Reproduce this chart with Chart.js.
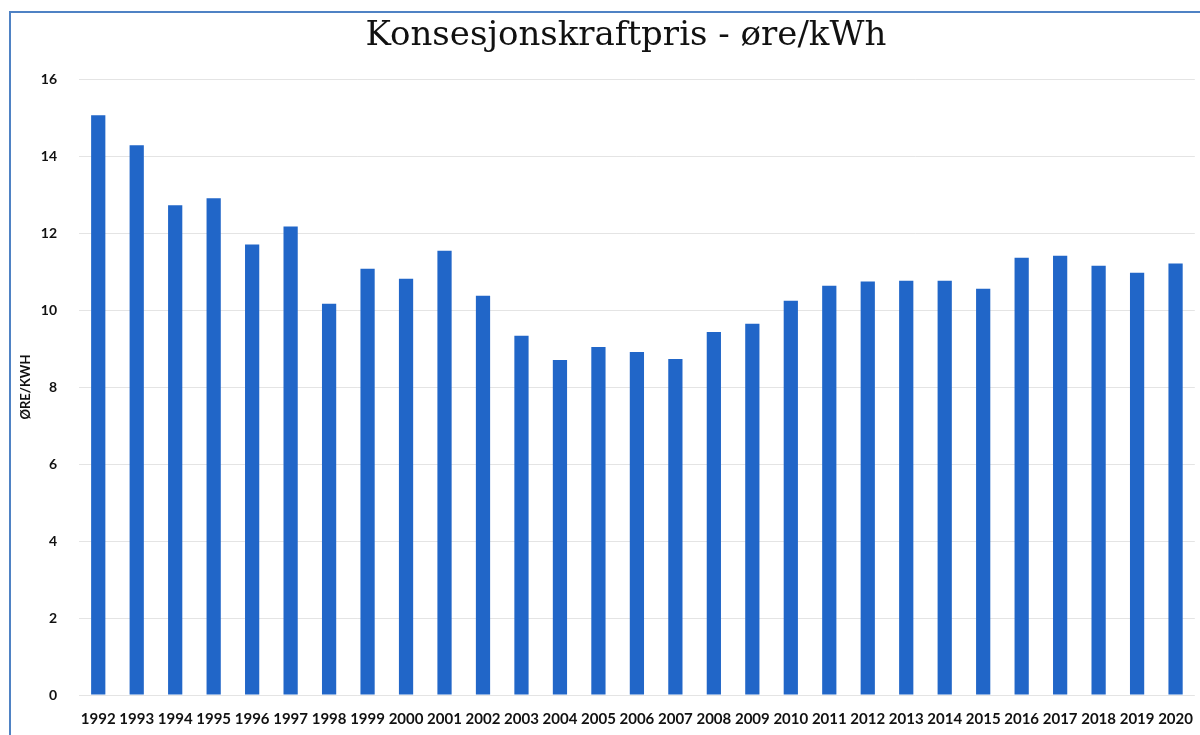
<!DOCTYPE html>
<html lang="no">
<head>
    <meta charset="UTF-8">
    <title>Konsesjonskraftpris</title>
    <script src="https://cdn.jsdelivr.net/npm/chart.js"></script>
    <style>
        body { margin: 0; background: #fff; }
        #wrap { position: relative; width: 1200px; height: 735px; overflow: hidden; }
        #frame {
            position: absolute; left: 9px; top: 11px; width: 1300px; height: 800px;
            border-left: 2px solid #4f82c4; border-top: 2px solid #4f82c4;
        }
        #chart { position: absolute; left: 0; top: 0; }
    </style>
</head>
<body>
<div id="wrap">
    <div id="frame"></div>
    <canvas id="chart" width="1200" height="735"></canvas>
</div>

<script>
    const years = ["1992", "1993", "1994", "1995", "1996", "1997", "1998", "1999", "2000", "2001",
                   "2002", "2003", "2004", "2005", "2006", "2007", "2008", "2009", "2010", "2011",
                   "2012", "2013", "2014", "2015", "2016", "2017", "2018", "2019", "2020"];
    const prices = [15.06, 14.28, 12.72, 12.90, 11.70, 12.17, 10.16, 11.07, 10.81, 11.54,
                    10.37, 9.33, 8.70, 9.04, 8.91, 8.73, 9.43, 9.64, 10.24, 10.63,
                    10.74, 10.76, 10.76, 10.55, 11.36, 11.41, 11.15, 10.97, 11.21];
    const yTicks = [0, 2, 4, 6, 8, 10, 12, 14, 16];
    const chartTitle = "Konsesjonskraftpris - øre/kWh";

    // title sits a bit left of the plot centre in the original, so draw it ourselves
    const titlePlugin = {
        id: "plotTitle",
        afterDraw(chart) {
            const c = chart.ctx;
            const a = chart.chartArea;
            c.save();
            c.font = "34px 'DejaVu Serif'";
            c.fillStyle = "#111";
            c.textAlign = "center";
            c.textBaseline = "middle";
            c.fillText(chartTitle, (a.left + a.right) / 2 - 11, 36);
            c.restore();
        }
    };

    const ctx = document.getElementById("chart").getContext("2d");

    new Chart(ctx, {
        type: "bar",
        data: {
            labels: years,
            datasets: [{
                label: "øre/kWh",
                data: prices,
                backgroundColor: "#2166c8",
                barPercentage: 0.37,
                categoryPercentage: 1.0
            }]
        },
        options: {
            responsive: false,
            animation: false,
            layout: { padding: { left: 18, right: 2, top: 79, bottom: 0 } },
            plugins: {
                legend: { display: false },
                tooltip: { enabled: false },
                title: { display: false }
            },
            scales: {
                x: {
                    grid: { display: false },
                    border: { display: false },
                    ticks: {
                        color: "#111",
                        maxRotation: 0,
                        autoSkip: false,
                        padding: 7,
                        font: { family: "Lato", size: 15, weight: "bold" }
                    }
                },
                y: {
                    min: 0,
                    max: 16,
                    afterBuildTicks: s => { s.ticks = yTicks.map(v => ({ value: v })); },
                    afterFit: s => { s.width = 61; },
                    grid: { color: "#e4e4e4", drawTicks: false },
                    border: { display: false },
                    ticks: {
                        color: "#111",
                        padding: 22,
                        font: { family: "Lato", size: 14, weight: "bold" }
                    },
                    title: {
                        display: true,
                        text: "ØRE/KWH",
                        color: "#111",
                        padding: 0,
                        font: { family: "Lato", size: 13, weight: "bold" }
                    }
                }
            }
        },
        plugins: [titlePlugin]
    });
</script>
</body>
</html>
